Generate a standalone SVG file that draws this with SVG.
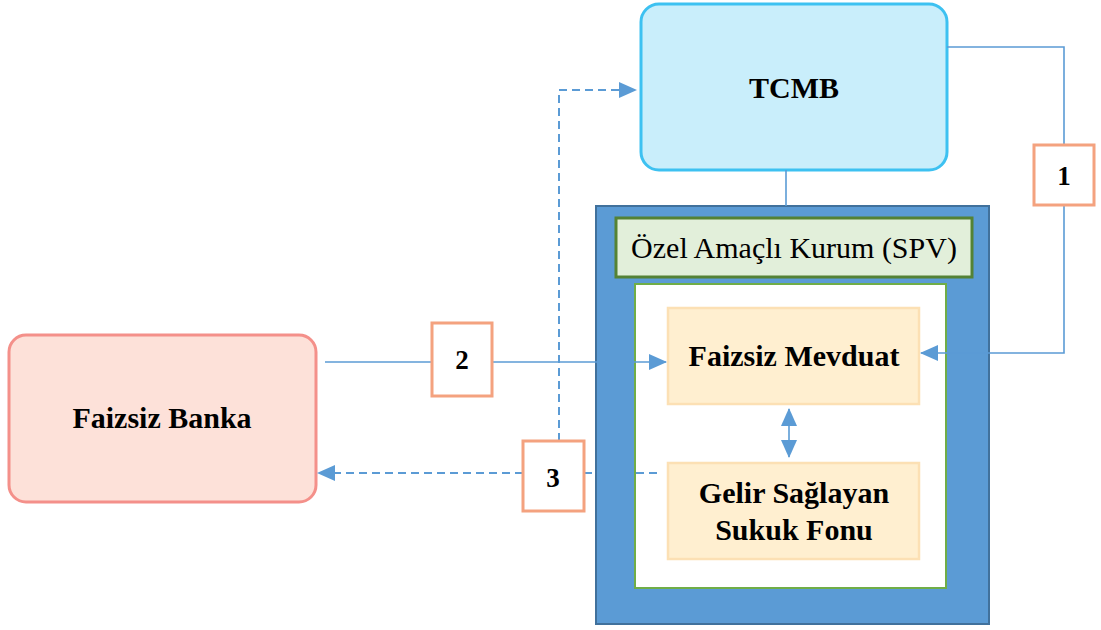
<svg xmlns="http://www.w3.org/2000/svg" width="1101" height="630" viewBox="0 0 1101 630">
  <defs>
    <marker id="arrow" markerUnits="userSpaceOnUse" markerWidth="18" markerHeight="18" refX="17" refY="8" orient="auto-start-reverse" viewBox="0 0 18 16">
      <path d="M0,0 L18,8 L0,16 Z" fill="#5B9BD5"/>
    </marker>
    <style>
      .line { fill: none; stroke: #5B9BD5; stroke-width: 1.6; }
      .dash { fill: none; stroke: #5B9BD5; stroke-width: 2; stroke-dasharray: 8 5; }
      .tag { fill: #fff; stroke: #F4A27F; stroke-width: 3; }
      .inner { fill: #FFEFD0; stroke: #FCE0B4; stroke-width: 2.5; }
    </style>
  </defs>
  <rect width="1101" height="630" fill="#fff"/>

  <!-- SPV container -->
  <g id="spv">
    <rect x="596" y="206" width="393" height="418" fill="#5B9BD5" stroke="#41719C" stroke-width="2"/>
    <rect x="616" y="218" width="356" height="59" fill="#E2EFDA" stroke="#548235" stroke-width="3"/>
    <text x="794" y="258" font-family="Liberation Serif, serif" font-size="30" text-anchor="middle" fill="#000">Özel Amaçlı Kurum (SPV)</text>
    <rect x="635" y="284" width="311" height="304" fill="#fff" stroke="#70AD47" stroke-width="2"/>
  </g>

  <g id="tcmb">
    <rect x="641" y="4" width="306" height="166" rx="18" fill="#C9EEFB" stroke="#3DC1F1" stroke-width="3"/>
    <text x="794" y="98" font-family="Liberation Serif, serif" font-size="30" font-weight="bold" text-anchor="middle">TCMB</text>
  </g>

  <g id="faizsiz-banka">
    <rect x="9" y="335" width="307" height="167" rx="17" fill="#FDE1D9" stroke="#F4908A" stroke-width="3"/>
    <text x="162" y="428" font-family="Liberation Serif, serif" font-size="30" font-weight="bold" text-anchor="middle">Faizsiz Banka</text>
  </g>

  <g id="faizsiz-mevduat">
    <rect class="inner" x="668" y="308" width="251" height="96"/>
    <text x="794" y="366" font-family="Liberation Serif, serif" font-size="30" font-weight="bold" text-anchor="middle">Faizsiz Mevduat</text>
  </g>

  <g id="sukuk-fonu">
    <rect class="inner" x="668" y="463" width="251" height="96"/>
    <g font-family="Liberation Serif, serif" font-size="30" font-weight="bold" text-anchor="middle">
      <text x="794" y="503">Gelir Sağlayan</text>
      <text x="794" y="540">Sukuk Fonu</text>
    </g>
  </g>

  <g id="connectors">
    <!-- TCMB to SPV -->
    <path class="line" d="M786,170 V206"/>
    <!-- 1: TCMB to Faizsiz Mevduat -->
    <path class="line" d="M947,47 H1064 V145"/>
    <path class="line" d="M1064,205 V353 H921" marker-end="url(#arrow)"/>
    <!-- 2: Faizsiz Banka to Faizsiz Mevduat -->
    <path class="line" d="M325,362 H432"/>
    <path class="line" d="M492,362 H666" marker-end="url(#arrow)"/>
    <!-- 3: Sukuk fund returns -->
    <path class="dash" d="M657,473 H584"/>
    <path class="dash" d="M523,473 H318" marker-end="url(#arrow)"/>
    <path class="dash" d="M559,441 V90 H636" marker-end="url(#arrow)"/>
    <!-- Mevduat <-> Sukuk -->
    <path class="line" d="M789,409 V457" stroke-width="2.2" marker-start="url(#arrow)" marker-end="url(#arrow)"/>
  </g>

  <g font-family="Liberation Serif, serif" font-size="27" font-weight="bold" text-anchor="middle">
    <g id="label-1">
      <rect class="tag" x="1034" y="145" width="60" height="60"/>
      <text x="1064" y="185">1</text>
    </g>
    <g id="label-2">
      <rect class="tag" x="432" y="323" width="60" height="73"/>
      <text x="462" y="369">2</text>
    </g>
    <g id="label-3">
      <rect class="tag" x="523" y="441" width="61" height="70"/>
      <text x="553" y="487">3</text>
    </g>
  </g>
</svg>
